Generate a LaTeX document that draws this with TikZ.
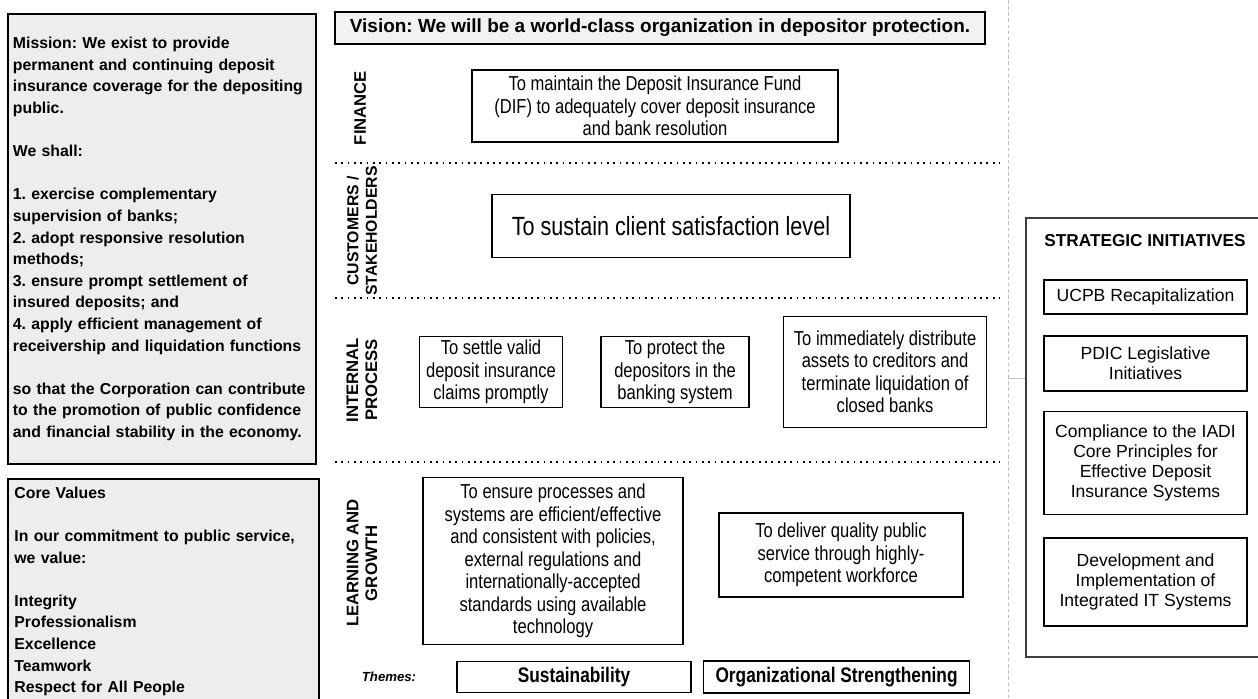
\documentclass[tikz,border=0pt]{standalone}
\usepackage{fontspec}
\setmainfont{Liberation Sans}
\newfontfamily\narrowfont[FakeStretch=0.82]{Liberation Sans}
\usepackage{tikz}
\usetikzlibrary{positioning}
\frenchspacing

\begin{document}
\begin{tikzpicture}[
	x = 0.02cm, y = -0.02cm, % one unit = one pixel, y going down
	P/.style={draw=black, line width=1.1pt, fill=gray!14, anchor=north west, align=left, inner xsep=2.5pt, text width=169.6pt, font=\fontsize{9}{12.3}\selectfont\bfseries}, % left panels
	L/.style={rotate=90, align=center, font=\fontsize{9.5}{10.8}\selectfont\bfseries},   % perspective labels
	B/.style={draw=black, line width=0.9pt, align=center, inner sep=2pt, font=\narrowfont\fontsize{11.5}{12.8}\selectfont}, % objectives
	T/.style={draw=black, line width=0.9pt, align=center, minimum height=0.6cm, font=\narrowfont\bfseries\fontsize{12}{13}\selectfont}, % themes
	S/.style={draw=black, line width=1pt, align=center, minimum width=4.06cm, inner sep=2pt, font=\fontsize{10}{11.5}\selectfont}, % initiatives
	D/.style={line width=1pt, dash pattern=on 1pt off 2.6pt}, % row separators
	]
	\useasboundingbox (0,0) rectangle (1258,699);

	% Left panels
	\node[P, minimum width=6.16cm, minimum height=9cm] (mission) at (7,13) {Mission: We exist to provide\\ permanent and continuing deposit\\ insurance coverage for the depositing\\ public.\\[12.3pt]
		We shall:\\[12.3pt]
		1. exercise complementary\\ supervision of banks;\\ 2. adopt responsive resolution\\ methods;\\ 3. ensure prompt settlement of\\ insured deposits; and\\ 4. apply efficient management of\\ receivership and liquidation functions\\[12.3pt]
		so that the Corporation can contribute\\ to the promotion of public confidence\\ and financial stability in the economy.};
	\node[P, minimum width=6.22cm, minimum height=4.5cm] (core) at (7,478) {Core Values\\[12.3pt]
		In our commitment to public service,\\ we value:\\[12.3pt]
		Integrity\\ Professionalism\\ Excellence\\ Teamwork\\ Respect for All People};

	% Vision
	\node[draw=black, line width=1.1pt, fill=gray!10, minimum width=13cm, minimum height=0.64cm, font=\fontsize{10.8}{12}\selectfont\bfseries] (vision) at (660,28) {Vision: We will be a world-class organization in depositor protection.};

	% Perspectives and their objectives
	\node[L] (fin) at (360,108) {FINANCE};
	\node[B, minimum width=7.32cm, minimum height=1.44cm] (dif) at (655,106) {To maintain the Deposit Insurance Fund\\ (DIF) to adequately cover deposit insurance\\ and bank resolution};

	\node[L, font=\fontsize{9}{10.5}\selectfont\bfseries] (cust) at (362,231) {CUSTOMERS /\\ STAKEHOLDERS};
	\node[B, minimum width=7.16cm, minimum height=1.26cm, font=\narrowfont\fontsize{15}{16}\selectfont] (client) at (671,226) {To sustain client satisfaction level};

	\node[L] (ip) at (362,380) {INTERNAL\\ PROCESS};
	\node[B, minimum width=2.86cm, minimum height=1.34cm] (settle) at (491,372) {To settle valid\\ deposit insurance\\ claims promptly};
	\node[B, minimum width=2.96cm, minimum height=1.34cm] (protect) [right = 0.74cm of settle] {To protect the\\ depositors in the\\ banking system};
	\node[B, minimum width=4.06cm, minimum height=2.22cm] (distrib) [right = 0.66cm of protect] {To immediately distribute\\ assets to creditors and\\ terminate liquidation of\\ closed banks};

	\node[L] (lg) at (362,563) {LEARNING AND\\ GROWTH};
	\node[B, minimum width=5.2cm, minimum height=3.34cm] (ensure) at (553,561) {To ensure processes and\\ systems are efficient/effective\\ and consistent with policies,\\ external regulations and\\ internationally-accepted\\ standards using available\\ technology};
	\node[B, minimum width=4.88cm, minimum height=1.68cm] (deliver) at (841,555) {To deliver quality public\\ service through highly-\\ competent workforce};

	% Themes
	\node[font=\fontsize{7.5}{9}\selectfont\bfseries\itshape] (themes) at (389,677) {Themes:};
	\node[T, minimum width=4.68cm] (sust) at (574,677) {Sustainability};
	\node[T, minimum width=5.32cm] (org) [right = 0.22cm of sust] {Organizational Strengthening};

	% Row separators
	\foreach \y in {163,298,462}
		\draw[D] (335,\y) -- (1000,\y);

	% Strategic initiatives
	\draw[gray!50, line width=0.4pt, dash pattern=on 2pt off 1.5pt] (1008,0) -- (1008,699);
	\draw[gray!50, line width=0.4pt] (1008,378) -- (1026,378);
	\draw[line width=0.6pt, black!75] (1258,218) -- (1026,218) -- (1026,657) -- (1258,657);
	\node[font=\fontsize{9.8}{11}\selectfont\bfseries] (si) at (1145,241) {STRATEGIC INITIATIVES};
	\node[S, minimum height=0.68cm] (ucpb) at (1145.5,297) {UCPB Recapitalization};
	\node[S, minimum height=1.1cm] (pdic) [below = 0.4cm of ucpb] {PDIC Legislative\\ Initiatives};
	\node[S, minimum height=2.06cm] (iadi) [below = 0.38cm of pdic] {Compliance to the IADI\\ Core Principles for\\ Effective Deposit\\ Insurance Systems};
	\node[S, minimum height=1.76cm] (it) [below = 0.44cm of iadi] {Development and\\ Implementation of\\ Integrated IT Systems};

\end{tikzpicture}
\end{document}
